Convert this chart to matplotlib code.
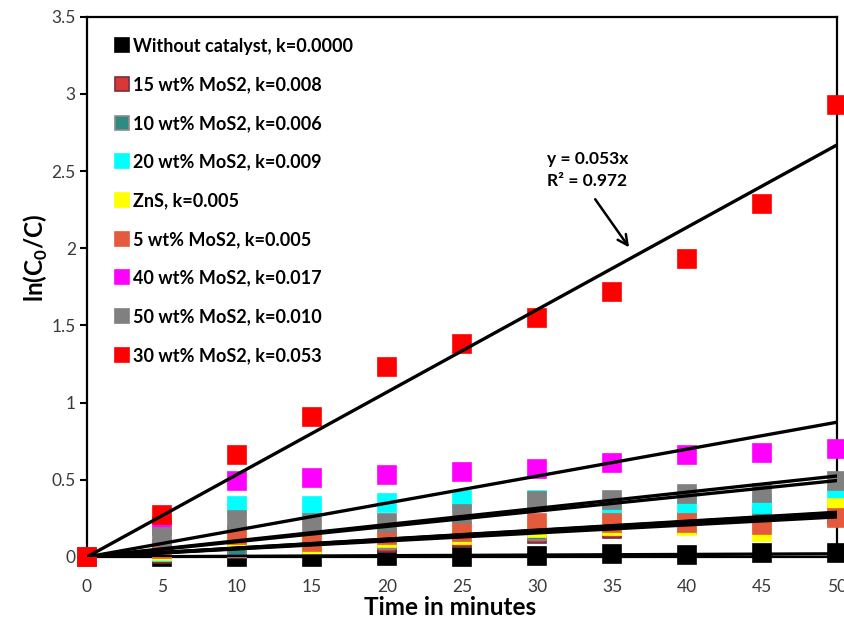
import numpy as np
import matplotlib.pyplot as plt

plt.rcParams["font.family"] = ["Lato", "DejaVu Sans"]
plt.rcParams["mathtext.fontset"] = "custom"
plt.rcParams["mathtext.rm"] = "Lato"
plt.rcParams["mathtext.bf"] = "Lato:bold"

time = [0, 5, 10, 15, 20, 25, 30, 35, 40, 45, 50]

labels = [
    "Without catalyst, k=0.0000",
    "15 wt% MoS2, k=0.008",
    "10 wt% MoS2, k=0.006",
    "20 wt% MoS2, k=0.009",
    "ZnS, k=0.005",
    "5 wt% MoS2, k=0.005",
    "40 wt% MoS2, k=0.017",
    "50 wt% MoS2, k=0.010",
    "30 wt% MoS2, k=0.053",
]

no_cat = [0, 0, 0, 0, 0.005, 0, 0.005, 0.02, 0.015, 0.025, 0.025]
mos2_15 = [0, 0.02, 0.05, 0.07, 0.09, 0.12, 0.15, 0.18, 0.21, 0.24, 0.27]
mos2_10 = [0, 0.03, 0.06, 0.09, 0.11, 0.14, 0.17, 0.20, 0.23, 0.26, 0.30]
mos2_20 = [0, 0.03, 0.33, 0.33, 0.35, 0.37, 0.37, 0.32, 0.34, 0.34, 0.39]
zns = [0, 0.04, 0.12, 0.08, 0.12, 0.14, 0.19, 0.20, 0.20, 0.16, 0.32]
mos2_5 = [0, 0.05, 0.14, 0.10, 0.14, 0.16, 0.22, 0.22, 0.22, 0.21, 0.25]
mos2_40 = [0, 0.20, 0.49, 0.51, 0.53, 0.55, 0.57, 0.61, 0.66, 0.675, 0.70]
mos2_50 = [0, 0.13, 0.24, 0.22, 0.22, 0.28, 0.36, 0.37, 0.41, 0.415, 0.49]
mos2_30 = [0, 0.27, 0.66, 0.91, 1.23, 1.38, 1.55, 1.72, 1.93, 2.29, 2.93]

series = [no_cat, mos2_15, mos2_10, mos2_20, zns, mos2_5, mos2_40, mos2_50, mos2_30]
faces = ["#000000", "#D8383A", "#2E8B84", "#00FFFF", "#FFFF00",
         "#E35B3C", "#FF00FF", "#808080", "#FF0000"]
edges = ["#000000", "#7B2C3A", "#8C8C8C", "#00FFFF", "#FFFF00",
         "#E35B3C", "#FF00FF", "#808080", "#FF0000"]

fig = plt.figure(figsize=(8.44, 6.23), dpi=100)
ax = fig.add_axes([0.103, 0.106, 0.889, 0.867])

x = np.array(time, dtype=float)
for vals, lab, fc, ec in zip(series, labels, faces, edges):
    y = np.array(vals)
    ax.plot(x, y, "s", ms=12.5, mfc=fc, mec=ec, mew=1.2, label=lab,
            clip_on=False, zorder=3)

# linear trendlines through the origin
for vals in series:
    y = np.array(vals)
    k = np.sum(x * y) / np.sum(x * x)
    ax.plot([0, 50], [0, 50 * k], color="black", lw=2.4, zorder=4,
            solid_capstyle="butt")

ax.set_xlim(0, 50)
ax.set_ylim(0, 3.5)
ax.set_xticks(np.arange(0, 51, 5))
ax.set_yticks(np.arange(0, 3.51, 0.5))
ax.set_yticklabels(["0", "0.5", "1", "1.5", "2", "2.5", "3", "3.5"])
ax.tick_params(axis="y", direction="out", length=5, width=1.5, labelsize=12.5,
               pad=3, labelcolor="#3a3a3a")
ax.tick_params(axis="x", length=0, labelsize=12.5, pad=16,
               labelcolor="#3a3a3a")

for s in ax.spines.values():
    s.set_linewidth(1.6)
    s.set_color("black")

ax.set_xlabel("Time in minutes", fontsize=17.5, fontweight="bold")
ax.xaxis.set_label_coords(0.484, -0.073)
ax.set_ylabel(r"ln(C$_\mathbf{0}$/C)", fontsize=17.5, fontweight="bold")
ax.yaxis.set_label_coords(-0.049, 0.554)

ax.text(33.4, 2.51, "y = 0.053x\nR² = 0.972", ha="center", va="center",
        fontsize=12.5, fontweight="bold", linespacing=1.45,
        multialignment="left")
ax.annotate("", xy=(36.13, 2.006), xytext=(33.87, 2.318),
            arrowprops=dict(arrowstyle="->", lw=1.8, color="black",
                            shrinkA=0, shrinkB=0, mutation_scale=18))

ax.legend(loc="upper left", bbox_to_anchor=(0.023, 0.985), frameon=False,
          prop={"weight": "bold", "size": 13}, labelspacing=1.2,
          handlelength=0.6, handletextpad=0.3, markerscale=0.75,
          borderaxespad=0.3)

fig.savefig("out.png", dpi=100)
